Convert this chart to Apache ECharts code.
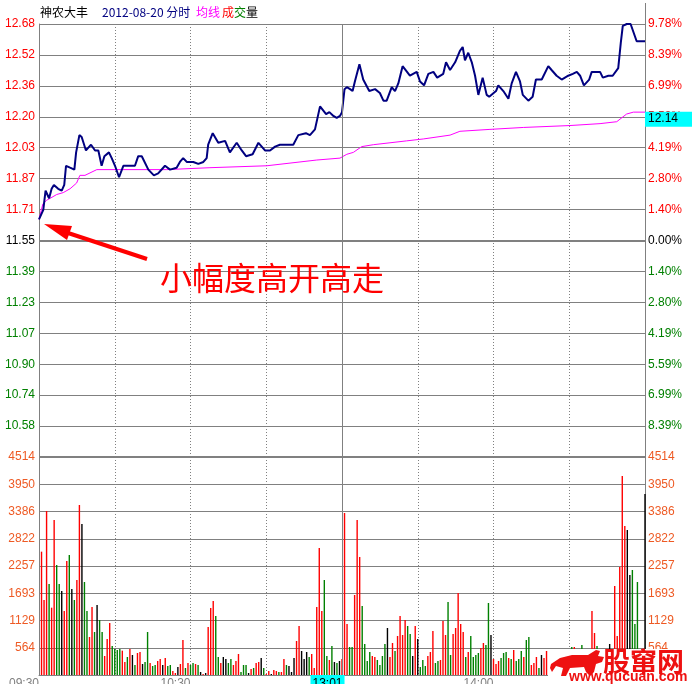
<!DOCTYPE html>
<html><head><meta charset="utf-8">
<script src="https://cdn.jsdelivr.net/npm/echarts@6/dist/echarts.min.js"></script>
<style>html,body{margin:0;padding:0;background:#fff}#c{width:692px;height:684px}</style>
</head><body><div id="c"></div>
<script>
const prevClose = 11.55;
const priceMin = 10.42, priceMax = 12.68;
const priceLabels = ['', '10.58', '10.74', '10.90', '11.07', '11.23', '11.39', '11.55', '11.71', '11.87', '12.03', '12.20', '12.36', '12.52', '12.68'];
const pctLabels = ['', '8.39%', '6.99%', '5.59%', '4.19%', '2.80%', '1.40%', '0.00%', '1.40%', '2.80%', '4.19%', '5.59%', '6.99%', '8.39%', '9.78%'];
const volMax = 4514.4;
const volLabels = ['', '564', '1129', '1693', '2257', '2822', '3386', '3950', '4514'];
const timeTickIdx = [0, 60, 121, 180];
const timeTickLabels = ['09:30', '10:30', '13:01', '14:00'];
const highlightTick = '13:01';
const avgTag = '12.14';
const middayIdx = 120;

// [minute index, price]
const pricePts = [[0,11.66],[1.7,11.71],[2.6,11.81],[3.3,11.79],[4.0,11.77],[5.0,11.82],[5.9,11.84],[7.6,11.82],[9.0,11.81],[10.0,11.84],[10.7,11.94],[12.3,11.93],[14.0,11.92],[14.7,12.01],[16.0,12.10],[16.9,12.09],[18.6,12.02],[20.6,12.05],[22.2,12.02],[23.5,12.02],[24.8,11.94],[25.9,11.99],[27.7,12.01],[28.8,11.98],[30.1,11.94],[31.7,11.88],[33.4,11.94],[35.4,11.94],[38.0,11.94],[39.3,11.99],[40.7,11.99],[43.3,11.92],[45.5,11.89],[47.2,11.90],[49.9,11.94],[51.9,11.92],[54.5,11.93],[55.8,11.96],[57.1,11.98],[58.5,11.96],[61.1,11.96],[63.1,11.95],[65.1,11.96],[66.4,11.98],[67.0,12.05],[68.8,12.11],[71.0,12.06],[73.7,12.07],[75.6,12.01],[78.3,12.06],[80.3,12.02],[82.0,11.99],[84.6,12.00],[86.9,12.06],[89.5,12.02],[91.5,12.02],[93.5,12.04],[95.4,12.05],[100.7,12.05],[102.7,12.10],[105.7,12.11],[107.3,12.10],[109.3,12.13],[111.3,12.25],[113.7,12.21],[115.0,12.22],[116.6,12.20],[117.9,12.19],[119.2,12.20],[120,12.22],[121,12.34],[121.9,12.35],[123.2,12.34],[124.2,12.33],[125.1,12.38],[126.9,12.47],[128.4,12.39],[130.8,12.33],[133.1,12.34],[135.0,12.32],[136.4,12.28],[137.7,12.28],[139.7,12.35],[141.0,12.33],[142.3,12.37],[144.0,12.46],[146.9,12.41],[149.6,12.43],[150.9,12.38],[152.5,12.36],[154.2,12.42],[156.2,12.43],[157.7,12.40],[160.1,12.42],[161.2,12.48],[162.8,12.44],[164.8,12.48],[166.7,12.54],[167.8,12.56],[168.7,12.49],[170.0,12.53],[171.4,12.48],[172.7,12.41],[174.0,12.31],[175.7,12.40],[177.3,12.31],[178.3,12.30],[181.0,12.33],[181.9,12.36],[183.9,12.33],[185.9,12.29],[187.2,12.37],[188.9,12.43],[190.5,12.38],[191.6,12.31],[193.8,12.28],[195.5,12.30],[196.8,12.39],[199.1,12.39],[201.7,12.46],[203.0,12.44],[205.0,12.41],[207.0,12.39],[209.6,12.41],[211.4,12.42],[213.0,12.43],[214.3,12.41],[215.8,12.36],[217.9,12.39],[218.9,12.43],[222.2,12.43],[223.3,12.40],[225.5,12.41],[227.2,12.41],[229.4,12.45],[230.4,12.58],[231.2,12.67],[232.8,12.68],[234.3,12.68],[236.7,12.59],[240,12.59]];

const avgPts = [[0,11.66],[1.5,11.74],[3.0,11.76],[4.4,11.77],[7.0,11.79],[9.6,11.80],[12.3,11.82],[14.9,11.85],[16.2,11.89],[18.2,11.89],[22.9,11.92],[30.8,11.92],[50.6,11.92],[67.7,11.93],[90.2,11.94],[110.0,11.97],[119.2,11.98],[121.9,12.00],[124.5,12.01],[127.8,12.04],[132.4,12.05],[139.0,12.06],[145.6,12.07],[152.2,12.08],[162.8,12.10],[166.7,12.12],[178.6,12.13],[191.8,12.14],[210.3,12.15],[222.2,12.16],[228.8,12.17],[232.7,12.21],[235.4,12.22],[240,12.22]];

// volume per minute index 0..240
const volumes = [null,
2554,1553,3396,1885,1394,3210,2278,1885,1740,1325,
2361,2485,1781,1553,1967,3521,3127,1926,1325,787,
1408,891,1450,1139,891,393,746,1077,601,538,
518,538,504,269,373,538,414,207,456,476,
228,269,891,249,186,207,290,331,207,352,
186,207,83,41,166,228,725,145,249,207,
249,228,207,62,21,41,994,1388,1533,1222,
373,249,373,331,249,331,207,290,435,62,
207,207,41,124,145,249,269,352,145,21,
83,21,104,83,62,62,331,207,186,62,
352,704,1015,497,331,476,373,435,145,1408,
2630,1325,1967,393,311,601,269,249,290,331,
3355,1056,580,580,1657,3210,2444,1429,642,290,
476,393,373,311,207,393,642,973,373,663,
497,808,1222,828,1139,1015,849,393,1015,746,
166,311,186,393,476,911,249,290,311,1118,
828,1512,414,849,973,1698,1056,891,373,476,
808,373,414,456,559,663,621,1491,828,331,
228,290,352,456,476,352,331,518,290,331,
497,373,725,787,207,249,373,145,414,352,
497,300,250,350,200,300,250,350,400,300,
580,580,350,300,621,250,400,350,1325,870,
601,300,250,350,400,642,450,1843,808,2237,
4121,3086,3003,2071,2175,1056,1926,400,300,3748];

// r = up, g = down, k = flat
const volColors = ('k' +
'rrrgrrggkr' + 'rgkgrrkggr' + 'rgkggrrrgg' + 'ggrrgrkgrr' +
'kggrggrrkr' + 'ggrrkrrgrg' + 'grgkrkrrrg' + 'grkkggrrrg' +
'ggkrgrrkgr' + 'rkrrgrrgkk' + 'krrkkkgrrr' + 'rrggrgkgkr' +
'rrggrrrggg' + 'grrggggkrr' + 'grrrrggkrk' + 'gggrrrggrr' +
'rggrrrrrgr' + 'ggggrrggkr' + 'rrgggrgrgg' + 'grggrrrgkr' +
'rgrggrgrgr' + 'grgrggrrrr' + 'ggkrgkrrrr' + 'rrkkggggrk').split('');

const colorMap = { r: '#ff0000', g: '#008000', k: '#000000' };
const GRID = '#808080';
const FONT = 'Liberation Sans';
const CJK = 'Noto Sans CJK SC';

const chart = echarts.init(document.getElementById('c'), null, { renderer: 'canvas' });

const volData = [];
volumes.forEach((v, i) => {
  if (v == null) return;
  volData.push({ value: [i, v], itemStyle: { color: colorMap[volColors[i]] } });
});

const signColor = (v) => v > 0 ? '#ff0000' : (v < 0 ? '#008000' : '#000000');
const slots = volumes.map((_, i) => String(i));

const option = {
  animation: false,
  backgroundColor: '#ffffff',
  grid: [
    { left: 39, top: 24, width: 606, height: 433, outerBoundsMode: 'none', containLabel: false },
    { left: 39, top: 457, width: 606, height: 218, outerBoundsMode: 'none', containLabel: false }
  ],
  xAxis: [
    { type: 'value', gridIndex: 0, min: 0, max: 240, interval: 30,
      axisLine: { show: false }, axisTick: { show: false }, axisLabel: { show: false },
      splitLine: { show: true, lineStyle: { color: GRID, width: 1, type: [1, 2] } } },
    { type: 'value', gridIndex: 1, min: 0, max: 240, interval: 30,
      axisLine: { show: true, onZero: false, lineStyle: { color: GRID, width: 1 } },
      axisTick: { show: false }, axisLabel: { show: false },
      splitLine: { show: true, lineStyle: { color: GRID, width: 1, type: [1, 2] } } },
    { type: 'category', gridIndex: 1, data: slots, boundaryGap: false, position: 'bottom',
      axisLine: { show: false }, axisTick: { show: false }, splitLine: { show: false },
      axisLabel: {
        show: true, margin: 0, align: 'right', verticalAlign: 'top',
        interval: (idx) => timeTickIdx.indexOf(idx) >= 0,
        formatter: (val, idx) => {
          const k = timeTickIdx.indexOf(Number(val));
          if (k < 0) return '';
          const t = timeTickLabels[k];
          return t === highlightTick ? '{hl|' + t + '}' : '{n|' + t + '}';
        },
        rich: {
          n: { color: '#808080', fontFamily: FONT, fontSize: 12, padding: [3, 0, 0, 0] },
          hl: { color: '#000000', fontFamily: FONT, fontSize: 12, backgroundColor: '#00ffff', padding: [3, 2, 1, 2] }
        }
      } }
  ],
  yAxis: [
    { type: 'value', gridIndex: 0, min: priceMin, max: priceMax, show: false },
    { type: 'value', gridIndex: 0, min: -7, max: 7, interval: 1, position: 'left',
      axisLine: { show: true, lineStyle: { color: GRID } }, axisTick: { show: false },
      splitLine: { show: true, lineStyle: { color: GRID, width: 1 } },
      axisLabel: { margin: 4, fontFamily: FONT, fontSize: 12,
        formatter: (v) => priceLabels[Math.round(v) + 7], color: (v) => signColor(Math.round(v)) } },
    { type: 'value', gridIndex: 0, min: -7, max: 7, interval: 1, position: 'right',
      axisLine: { show: true, lineStyle: { color: GRID } }, axisTick: { show: false },
      splitLine: { show: false },
      axisLabel: { margin: 3, fontFamily: FONT, fontSize: 12,
        formatter: (v) => pctLabels[Math.round(v) + 7], color: (v) => signColor(Math.round(v)) } },
    { type: 'value', gridIndex: 1, min: 0, max: volMax, show: false },
    { type: 'value', gridIndex: 1, min: 0, max: 8, interval: 1, position: 'left',
      axisLine: { show: true, lineStyle: { color: GRID } }, axisTick: { show: false },
      splitLine: { show: true, lineStyle: { color: GRID, width: 1 } },
      axisLabel: { margin: 4, fontFamily: FONT, fontSize: 12, color: '#ee5a24',
        formatter: (v) => volLabels[Math.round(v)] } },
    { type: 'value', gridIndex: 1, min: 0, max: 8, interval: 1, position: 'right',
      axisLine: { show: true, lineStyle: { color: GRID } }, axisTick: { show: false },
      splitLine: { show: false },
      axisLabel: { margin: 3, fontFamily: FONT, fontSize: 12, color: '#ee5a24',
        formatter: (v) => volLabels[Math.round(v)] } }
  ],
  series: [
    { name: '均线', type: 'line', xAxisIndex: 0, yAxisIndex: 0, data: avgPts,
      showSymbol: false, symbol: 'none', lineStyle: { color: '#ff00ff', width: 1 }, z: 3,
      endLabel: { show: true, formatter: () => avgTag, color: '#000000', fontFamily: FONT, fontSize: 12,
        backgroundColor: '#00ffff', padding: [2, 14, 1, 3], distance: 0, offset: [0, 7] },
      markLine: { silent: true, symbol: 'none', label: { show: false }, animation: false,
        data: [
          { yAxis: prevClose, lineStyle: { color: GRID, width: 2, type: 'solid' } },
          { xAxis: middayIdx, lineStyle: { color: GRID, width: 1, type: 'solid' } }
        ] } },
    { name: '分时', type: 'line', xAxisIndex: 0, yAxisIndex: 0, data: pricePts,
      showSymbol: false, symbol: 'none', lineStyle: { color: '#000080', width: 2 }, z: 4 },
    { name: '成交量', type: 'bar', xAxisIndex: 1, yAxisIndex: 3, data: volData, barWidth: 1.4,
      markLine: { silent: true, symbol: 'none', label: { show: false }, animation: false,
        data: [
          { xAxis: middayIdx, lineStyle: { color: GRID, width: 1, type: 'solid' } },
          { yAxis: volMax, lineStyle: { color: GRID, width: 2, type: 'solid' } }
        ] } }
  ],
  graphic: [
    { type: 'line', shape: { x1: 645.5, y1: 3, x2: 645.5, y2: 24 }, style: { stroke: GRID, lineWidth: 1 } },
    { type: 'text', x: 40, y: 6, style: { text: '神农大丰', fill: '#000000', font: '12px "' + CJK + '"' } },
    { type: 'text', x: 102, y: 6, style: { text: '2012-08-20 分时', fill: '#000080', font: '12px "' + CJK + '"' } },
    { type: 'text', x: 196, y: 6, style: { text: '均线', fill: '#ff00ff', font: '12px "' + CJK + '"' } },
    { type: 'text', x: 222, y: 6, style: { text: '成', fill: '#ff0000', font: '12px "' + CJK + '"' } },
    { type: 'text', x: 234, y: 6, style: { text: '交', fill: '#008000', font: '12px "' + CJK + '"' } },
    { type: 'text', x: 246, y: 6, style: { text: '量', fill: '#000000', font: '12px "' + CJK + '"' } },
    // annotation arrow
    { type: 'line', z: 50, shape: { x1: 147, y1: 259, x2: 62, y2: 231 }, style: { stroke: '#ff0000', lineWidth: 4 } },
    { type: 'polygon', z: 50, shape: { points: [[44, 224], [72, 226], [67, 240]] }, style: { fill: '#ff0000' } },
    { type: 'text', z: 50, x: 160, y: 262, style: { text: '小幅度高开高走', fill: '#ff0000', font: '32px "' + CJK + '"' } },
    // watermark logo
    { type: 'rect', z: 100, shape: { x: 548, y: 649, width: 144, height: 35 }, style: { fill: '#ffffff' } },
    { type: 'polygon', z: 101, shape: { points: [[551,664],[560,658],[572,655],[588,655],[596,650],[600,651],[598,656],[604,657],[602,662],[596,664],[594,672],[590,676],[586,672],[584,667],[570,668],[566,676],[561,676],[563,668],[556,666],[552,672],[550,668]] }, style: { fill: '#ee1111' } },
    { type: 'text', z: 101, x: 603, y: 648, style: { text: '股窜网', fill: '#ee1111', font: 'bold 27px "' + CJK + '"' } },
    { type: 'text', z: 101, x: 569, y: 670, style: { text: 'www.qucuan.com', fill: '#ee1111', font: 'bold 14px "' + FONT + '"' } }
  ]
};
chart.setOption(option);
</script></body></html>
